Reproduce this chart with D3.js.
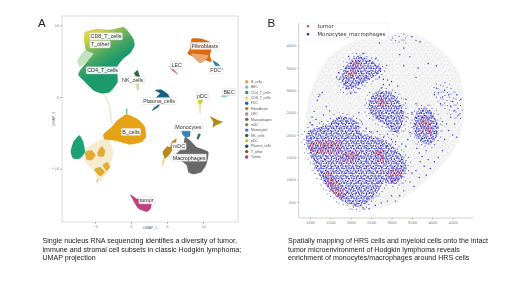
<!DOCTYPE html>
<html>
<head>
<meta charset="utf-8">
<script src="https://cdnjs.cloudflare.com/ajax/libs/d3/7.8.5/d3.min.js"></script>
<style>
  html, body { margin: 0; padding: 0; background: #fff; }
  text { font-family: "Liberation Sans", sans-serif; }
  .cap { font-size: 7.1px; fill: #222; }
  .tick text { fill: #777; font-size: 3.6px; font-family: "DejaVu Sans", sans-serif; }
</style>
<title>snRNA UMAP and spatial map</title>
</head>
<body>
<div id="chart"></div>
<script>
// ---- panel A: UMAP cluster outlines (UMAP units)
var tAll = [[-6.39,9.07],[-4.77,9.53],[-2.92,9.40],[-1.06,9.77],[-0.51,9.30],[0.32,8.14],[0.51,7.21],[-0.14,6.05],[-1.06,5.35],[-1.90,4.19],[-1.85,2.09],[-2.92,0.70],[-4.07,0.47],[-5.23,0.93],[-6.39,2.09],[-7.31,3.02],[-7.08,3.72],[-5.93,5.12],[-5.23,6.05],[-6.25,6.51],[-6.53,7.91]];
var tFuzz = [[-7.45,5.12],[-6.39,6.51],[-5.23,6.14],[-5.93,5.12],[-7.08,4.19]];
var bWeb = [[-6.62,-7.44],[-3.84,-5.81],[-2.92,-6.28],[-2.45,-7.91],[-3.15,-10.23],[-4.31,-11.86],[-5.23,-10.23],[-6.39,-9.07]];
var bMain = [[-3.84,-5.21],[-2.69,-4.19],[-1.90,-3.26],[-0.60,-2.42],[1.02,-3.16],[1.94,-4.19],[2.08,-5.58],[1.48,-6.28],[-0.14,-6.65],[-1.99,-6.14],[-3.61,-5.95]];
var bNode1 = [[-6.39,-7.67],[-5.46,-7.44],[-4.91,-8.14],[-5.46,-8.84],[-6.16,-8.74]];
var bNode2 = [[-4.63,-7.67],[-4.07,-6.88],[-3.61,-7.44],[-3.75,-8.28],[-4.54,-8.28]];
var bNode3 = [[-3.94,-9.53],[-3.29,-9.07],[-2.92,-9.77],[-3.38,-10.33]];
var bNode4 = [[-5.14,-10.14],[-4.31,-9.77],[-3.61,-10.47],[-4.31,-11.07]];
var cd4Low = [[-8.38,-7.67],[-8.01,-6.28],[-7.18,-5.35],[-6.62,-6.28],[-6.39,-7.67],[-7.08,-8.60],[-8.01,-8.60]];
var fibro = [[8.43,8.14],[9.81,8.14],[10.97,7.67],[11.20,6.74],[10.97,5.81],[11.20,4.88],[10.28,5.12],[9.58,4.74],[8.66,5.58],[7.82,6.05],[8.19,6.74]];
var fibroPale = [[8.43,6.05],[10.74,5.81],[10.28,5.12],[9.58,4.74],[8.66,5.58]];
var fdc = [[11.34,5.12],[12.13,4.65],[12.82,3.81],[11.90,4.09],[11.53,4.65]];
var lec = [[5.32,4.28],[5.79,4.09],[6.67,3.02],[5.65,3.72]];
var nkPale = [[0.30,2.40],[0.95,3.80],[1.30,2.55],[1.16,1.86],[1.06,0.84],[0.79,1.16],[0.69,2.09]];
var nkDark = [[0.42,3.26],[0.88,3.72],[1.25,2.79],[0.76,2.86]];
var plasma = [[3.33,0.93],[4.26,1.02],[5.05,0.47],[5.42,-0.23],[4.03,-0.23],[3.47,-0.09],[4.03,0.47]];
var plasmaTail = [[4.12,-0.84],[3.19,-1.49],[2.87,-2.00],[3.80,-1.40]];
var pdcTail = [[9.35,-0.93],[9.80,-0.93],[9.60,-2.56]];
var pdc = [[9.30,-0.23],[9.77,-0.09],[10.00,-0.56],[9.68,-1.02],[9.35,-0.84]];
var bec = [[12.45,0.09],[13.29,0.47],[13.61,0.23],[13.06,-0.09]];
var wedge = [[10.97,-2.70],[12.13,-3.26],[12.73,-3.49],[11.81,-3.95],[11.34,-4.28],[11.43,-3.49]];
var macro = [[7.50,-5.58],[8.19,-6.05],[9.12,-6.98],[10.74,-7.67],[10.51,-9.30],[9.81,-10.47],[8.66,-10.79],[7.96,-10.47],[7.73,-9.53],[6.81,-8.84],[5.88,-8.37],[6.81,-7.44],[7.27,-6.74]];
var mono = [[7.04,-4.65],[8.19,-4.56],[8.19,-5.49],[7.59,-5.67],[7.13,-5.21]];
var monoSmall = [[9.35,-5.12],[9.68,-5.21],[9.35,-5.95],[9.12,-5.81]];
var mdc = [[4.40,-7.67],[5.05,-6.88],[5.42,-6.98],[5.65,-6.28],[6.34,-5.81],[6.11,-6.74],[5.42,-7.91],[4.72,-8.60]];
var mdcTail = [[4.40,-8.60],[4.86,-8.60],[4.26,-9.86]];
var tumorA = [[-0.14,-13.58],[0.79,-14.19],[1.94,-14.19],[2.87,-14.65],[2.73,-15.58],[2.18,-16.05],[1.02,-15.58],[0.42,-14.65]];

var clusterShapes = [tFuzz, tAll, bWeb, bMain, bNode1, bNode2, bNode3, bNode4, cd4Low, fibro, fibroPale, fdc, lec, nkPale, nkDark, plasma, plasmaTail, pdcTail, pdc, bec, wedge, macro, mono, monoSmall, mdc, mdcTail, tumorA];
var clusterColors = ["#c4e2c2", "url(#tGrad)", "#f6ecd2", "#e5a212", "#e2ab35", "#e2ab35", "#e2ab35", "#e2ab35", "#1fa276", "#dd6a10", "#e9a877", "#2b7fa8", "#c97ba8", "#cfd9a0", "#2e6b40", "#125e80", "#2a6f8c", "#e9e7c0", "#d6cb2a", "#8fc5e6", "#b8871a", "#676767", "#3b85b5", "#3a6b72", "#b58a1c", "#ecd9a8", "#c0407f"];

// thin strands between the B cell clumps
var strands = [
  [[-3.61,-5.81],[-4.54,-7.20]],
  [[-3.15,-6.28],[-2.69,-7.44],[-3.38,-9.30]],
  [[-5.00,-8.14],[-4.54,-9.80]],
  [[-4.31,-11.00],[-4.77,-11.90]],
  [[-2.69,-3.72],[-2.92,-1.40],[-3.61,0.23]],
  [[-0.60,-2.42],[-0.60,-1.60]]
];
var strandColors = ["#e8bb55", "#e8bb55", "#e8bb55", "#e8bb55", "#e6ebd8", "#7cc2a8"];

var labelNames = ["CD8_T_cells", "T_other", "CD4_T_cells", "NK_cells", "Plasma_cells", "LEC", "Fibroblasts", "FDC", "pDC", "BEC", "Monocytes", "mDC", "Macrophages", "B_cells", "tumor"];
var labelX = [-3.47, -4.31, -3.94, 0.23, 3.89, 6.34, 10.28, 11.76, 9.91, 13.61, 7.96, 6.67, 8.06, 0, 2.18];
var labelY = [8.47, 7.35, 3.72, 2.33, -0.56, 4.42, 7.12, 3.81, 0.09, 0.70, -4.23, -6.88, -8.47, -4.88, -14.42];

var legendNames = ["B_cells", "BEC", "CD4_T_cells", "CD8_T_cells", "FDC", "Fibroblasts", "LEC", "Macrophages", "mDC", "Monocytes", "NK_cells", "pDC", "Plasma_cells", "T_other", "Tumor"];
var legendColors = ["#e5a73a", "#7cb0e0", "#1c9a6c", "#efd85a", "#1f66a8", "#d86a1e", "#b37db0", "#6b6358", "#a8802a", "#3a78c8", "#2f6b35", "#c9c23a", "#13506a", "#8a5238", "#b83a6a"];

var umapXTicks = [-5, 0, 5, 10];
var umapYTicks = [-10, 0, 10];

// ---- panel B: spatial map (tissue coordinates)
var tissue = [[3371,4277],[3862,4128],[4352,3792],[4679,3306],[4777,2635],[4679,1963],[4352,1440],[3862,993],[3208,545],[2472,321],[1981,396],[1491,731],[1000,1590],[918,2038],[918,2560],[1082,3157],[1409,3680],[1899,4024],[2390,4204],[2840,4240]];
var denseAreas = [
  [[918,2038],[1409,2224],[1736,2411],[2186,2262],[2226,2075],[2880,1851],[3371,1329],[3126,918],[2799,918],[2635,694],[2226,396],[1899,470],[1531,731],[1164,1217]],
  [[1777,3344],[2145,3754],[2553,3642],[2758,3456],[2431,3232],[2063,3045],[1899,3008]],
  [[2431,2635],[2594,2933],[2921,2971],[3248,2672],[3289,2336],[3126,2038],[2799,2262],[2553,2411]],
  [[3535,2224],[3698,2597],[3943,2560],[4148,2187],[4025,1851],[3780,1814],[3575,2000]]
];
var sparseAreas = [
  [[4025,3120],[4352,3194],[4761,2560],[4679,2336],[4270,2560]],
  [[2962,4165],[3371,4277],[3371,4053],[3044,4053]]
];
var tumorAreas = [
  [[1000,1650],[1750,1650],[1750,1820],[1000,1820]],
  [[1300,1100],[1700,600],[1850,600],[1450,1200]],
  [[1750,1430],[2200,1470],[2200,1600],[1750,1560]],
  [[2600,1450],[2850,1400],[2800,1650],[2600,1650]],
  [[2950,1000],[3200,1000],[3200,1250],[2950,1200]],
  [[1950,3250],[2250,3600],[2100,3650],[1950,3400]],
  [[2680,2650],[2880,2650],[2850,2850],[2700,2850]],
  [[3700,2150],[3950,2050],[3900,2400],[3750,2400]]
];
var blueX = [1240,1210,1300,1180,1330,1100,1050,1000,1150,1290,1400,1480,1250,1050,1700,1730,1650,2000,2100,2180,2300,2700,2800,2900,3000,2800,2950,2750,2880,2620,2300,1950,2700,3500,3600,3700,3300,3200,3450,3650,3900,4100,3300,3600,2200,2260,2380,2500,2650,2800,2900,3000,3100,3250,3350,3400,3450,3380,3500,3600,3350,3150,4700,4600,4400,4500,4600,4300,4350,4250,4450,4550,3620,3680,3750,3850,3700,3800,3900,3950,4050,3600,3680,3500,3450,3550,3300,3200,3000,2900,2750,3100,3850,4150,4250,2450,2300,2600,4100,4150,4250,4300,4400,4500,4450,4550,4650,4200,4050];
var blueY = [2900,2860,2950,2780,2450,2530,2400,2280,2350,2300,2640,2540,2120,2230,3400,3250,3300,2930,2960,3040,3180,3300,3250,3230,3200,3130,3120,3050,3560,3720,3820,3760,4060,4200,4120,4090,3950,3800,3750,3500,3600,3550,3550,3290,2500,2300,2150,2070,2080,1950,2020,1900,1850,1800,1750,1900,2050,2400,2500,2700,2800,3100,2800,2900,2100,2000,1950,1900,2250,2300,2400,2250,1700,1600,1520,1650,1400,1300,1450,1250,1400,1200,1050,1150,950,850,750,640,640,520,480,520,1100,1500,1650,350,370,420,3050,2950,2850,3000,2900,2750,2650,2550,2450,2700,2900];
var redX = [1050,1150,1250,1350,1450,1550,1650,1720,1330,1400,1450,1520,1600,1700,1780,1420,1560,1750,1900,2050,2150,2650,2780,2700,3000,3100,3200,3050,2000,2100,2150,2250,2050,2180,2750,2800,2850,2700,3750,3850,3900,3800,3950];
var redY = [1720,1760,1700,1740,1720,1780,1720,1700,1140,1050,960,880,800,680,600,1180,1000,1500,1520,1470,1540,1560,1480,1620,1080,1000,1150,1200,3350,3500,3600,3420,3280,3300,2800,2720,2650,2450,2300,2250,2150,2400,2050];
var spatialXTicks = [1000, 1500, 2000, 2500, 3000, 3500, 4000, 4500];
var spatialYTicks = [500, 1000, 1500, 2000, 2500, 3000, 3500, 4000];

var captionA = ["Single nucleus RNA sequencing identifies a diversity of tumor,", "immune and stromal cell subsets in classic Hodgkin lymphoma;", "UMAP projection"];
var captionB = ["Spatially mapping of HRS cells and myeloid cells onto the intact", "tumor microenvironment of Hodgkin lymphoma reveals", "enrichment of monocytes/macrophages around HRS cells"];

// page
var svg = d3.select("#chart").append("svg")
  .attr("width", 520).attr("height", 292)
  .style("display", "block");

var defs = svg.append("defs");
defs.append("filter").attr("id", "soft").append("feGaussianBlur").attr("stdDeviation", 0.4);
defs.append("filter").attr("id", "softText").append("feGaussianBlur").attr("stdDeviation", 0.18);

// T cell block fades from yellow through to green
var tGrad = defs.append("linearGradient").attr("id", "tGrad").attr("gradientUnits", "userSpaceOnUse")
  .attr("x1", 85).attr("y1", 28).attr("x2", 112).attr("y2", 72);
[["0", "#e6da50"], ["0.22", "#cfd04e"], ["0.42", "#7fb85a"], ["0.62", "#45a662"], ["0.85", "#1b9a6c"]].forEach(function (s) {
  tGrad.append("stop").attr("offset", s[0]).attr("stop-color", s[1]);
});

// stipple tiles for the very dense point clouds, tile sizes differ so the overlay doesn't show a grid
function stipple(id, size, dots, color, r) {
  var p = defs.append("pattern").attr("id", id).attr("patternUnits", "userSpaceOnUse")
    .attr("width", size).attr("height", size);
  dots.forEach(function (d) {
    p.append("circle").attr("cx", d[0]).attr("cy", d[1]).attr("r", r).attr("fill", color);
  });
}
stipple("grey1", 7, [[0.5,1],[4.5,1.5],[2.5,3.8],[6,5],[1,6]], "#e2e2e2", 0.6);
stipple("grey2", 11, [[2,2],[7,1],[9.5,4],[4.5,6],[1,9],[7.5,9.5]], "#dcdcdc", 0.6);
stipple("blue1", 5, [[0.7,0.8],[3,1.2],[1.5,3],[4,3.6]], "#2020d0", 0.65);
stipple("blue2", 7, [[1,0.5],[4,2],[6,4],[2.5,5.5]], "#3030e0", 0.65);
stipple("blue3", 11, [[1.5,3],[5,0.8],[8,2.5],[3.5,7],[6.5,5.5],[9.5,8],[1,10]], "#1a1ac0", 0.6);
stipple("blueSparse", 13, [[1,1],[5.5,1.5],[9,3],[12,1],[3,4.5],[7.5,6],[11.5,7],[1,8],[5,9.5],[9,10.5],[2.5,12]], "#3535cf", 0.55);
stipple("red1", 5, [[0.7,0.8],[3,0.5],[1.8,2.5],[4,2.5],[0.6,4.2],[3,4.3]], "#c04060", 0.6);

// ---- panel A
var xA = d3.scaleLinear().domain([-9.58, 14.86]).range([62, 238]);
var yA = d3.scaleLinear().domain([11.3, -17.45]).range([16, 222]);
var shape = d3.line().x(function (d) { return xA(d[0]); }).y(function (d) { return yA(d[1]); }).curve(d3.curveCardinalClosed.tension(0.5));

svg.append("rect").attr("x", 62).attr("y", 16).attr("width", 176).attr("height", 206)
  .attr("fill", "#fff").attr("stroke", "#dcdcdc").attr("stroke-width", 1);

var axA = svg.append("g");
axA.append("g").attr("transform", "translate(0,222)")
  .call(d3.axisBottom(xA).tickValues(umapXTicks).tickSize(1.5).tickPadding(1.5))
  .call(function (g) { g.select(".domain").remove(); g.selectAll("line").attr("stroke", "#999"); });
axA.append("g").attr("transform", "translate(62,0)")
  .call(d3.axisLeft(yA).tickValues(umapYTicks).tickSize(1.5).tickPadding(1.5))
  .call(function (g) { g.select(".domain").remove(); g.selectAll("line").attr("stroke", "#999"); });

svg.append("text").attr("x", 150).attr("y", 229).attr("text-anchor", "middle")
  .style("font-size", "3.6px").style("fill", "#666").text("UMAP_1");
svg.append("text").attr("transform", "translate(55,119) rotate(-90)").attr("text-anchor", "middle")
  .style("font-size", "3.6px").style("fill", "#666").text("UMAP_2");

var marksA = svg.append("g").attr("filter", "url(#soft)");
marksA.selectAll("path.strand").data(strands).enter().append("path")
  .attr("class", "strand")
  .attr("d", d3.line().x(function (d) { return xA(d[0]); }).y(function (d) { return yA(d[1]); }))
  .attr("fill", "none")
  .attr("stroke", function (d, i) { return strandColors[i]; })
  .attr("stroke-width", 1.6);
marksA.selectAll("path.cluster").data(clusterShapes).enter().append("path")
  .attr("class", "cluster")
  .attr("d", shape)
  .attr("fill", function (d, i) { return clusterColors[i]; });

// cluster name boxes
var labelFont = 5.4;
var labelsA = svg.append("g").attr("filter", "url(#softText)");
labelNames.forEach(function (name, i) {
  var g = labelsA.append("g").attr("transform", "translate(" + xA(labelX[i]) + "," + yA(labelY[i]) + ")");
  var t = g.append("text").attr("text-anchor", "middle").attr("y", labelFont * 0.36)
    .style("font-size", labelFont + "px").style("fill", "#333").text(name);
  var w = t.node().getComputedTextLength() + 2;
  g.insert("rect", "text").attr("x", -w / 2).attr("y", -3.6).attr("width", w).attr("height", 7.2)
    .attr("rx", 0.8).attr("fill", "#fff").attr("fill-opacity", 0.9).attr("stroke", "#ccc").attr("stroke-width", 0.4);
});

// legend of panel A
var legY = d3.scalePoint().domain(legendNames).range([81.7, 157]);
var legA = svg.selectAll("g.legA").data(legendNames).enter().append("g").attr("class", "legA")
  .attr("filter", "url(#softText)")
  .attr("transform", function (d) { return "translate(246.7," + legY(d) + ")"; });
legA.append("circle").attr("r", 1.7).attr("fill", function (d, i) { return legendColors[i]; });
legA.append("text").attr("x", 4.3).attr("y", 1.2).style("font-size", "3.4px").style("fill", "#555").text(function (d) { return d; });

// ---- panel B
var xB = d3.scaleLinear().domain([1000, 4500]).range([310, 452.7]);
var yB = d3.scaleLinear().domain([500, 4000]).range([202, 45.7]);
var blob = d3.line().x(function (d) { return xB(d[0]); }).y(function (d) { return yB(d[1]); }).curve(d3.curveCatmullRomClosed.alpha(0.5));

var marksB = svg.append("g").attr("filter", "url(#soft)");
marksB.append("path").datum(tissue).attr("d", blob).attr("fill", "#f6f6f6");
["grey1", "grey2"].forEach(function (p) {
  marksB.append("path").datum(tissue).attr("d", blob).attr("fill", "url(#" + p + ")");
});
marksB.selectAll("path.sparse").data(sparseAreas).enter().append("path").attr("class", "sparse")
  .attr("d", blob).attr("fill", "url(#blueSparse)");
// fuzzy rim round the dense areas
marksB.selectAll("path.rim").data(denseAreas).enter().append("path").attr("class", "rim")
  .attr("d", blob).attr("fill", "none").attr("stroke", "url(#blueSparse)").attr("stroke-width", 10);
["blue1", "blue2", "blue3"].forEach(function (p) {
  marksB.selectAll("path." + p).data(denseAreas).enter().append("path").attr("class", p)
    .attr("d", blob).attr("fill", "url(#" + p + ")");
});
marksB.selectAll("path.tum").data(tumorAreas).enter().append("path").attr("class", "tum")
  .attr("d", blob).attr("fill", "url(#red1)");
marksB.selectAll("circle.blue").data(blueX).enter().append("circle").attr("class", "blue")
  .attr("cx", function (d) { return xB(d); })
  .attr("cy", function (d, i) { return yB(blueY[i]); })
  .attr("r", 0.7).attr("fill", "#2a2ad0");
marksB.selectAll("circle.red").data(redX).enter().append("circle").attr("class", "red")
  .attr("cx", function (d) { return xB(d); })
  .attr("cy", function (d, i) { return yB(redY[i]); })
  .attr("r", 0.7).attr("fill", "#c03050");

// left and bottom spines only
var axB = svg.append("g");
axB.append("g").attr("transform", "translate(0,218)")
  .call(d3.axisBottom(xB).tickValues(spatialXTicks).tickSize(1.5).tickPadding(1.5).tickFormat(d3.format("d")))
  .call(function (g) { g.selectAll("line").attr("stroke", "#aaa"); });
axB.append("g").attr("transform", "translate(298.7,0)")
  .call(d3.axisLeft(yB).tickValues(spatialYTicks).tickSize(1.5).tickPadding(1.5).tickFormat(d3.format("d")))
  .call(function (g) { g.selectAll("line").attr("stroke", "#aaa"); });
axB.selectAll(".domain").remove();
axB.append("line").attr("x1", 298.7).attr("x2", 298.7).attr("y1", 23).attr("y2", 218).attr("stroke", "#c4c4c4").attr("stroke-width", 0.8);
axB.append("line").attr("x1", 298.7).attr("x2", 473).attr("y1", 218).attr("y2", 218).attr("stroke", "#c4c4c4").attr("stroke-width", 0.8);

// legend of panel B
svg.append("rect").attr("x", 299.5).attr("y", 23).attr("width", 88.5).attr("height", 17)
  .attr("fill", "#fff").attr("stroke", "#eee").attr("stroke-width", 0.5).attr("rx", 1);
var legBNames = ["tumor", "Monocytes_macrophages"];
var legBColors = ["#c0504d", "#2222b8"];
var legB = svg.append("g").attr("filter", "url(#softText)");
legBNames.forEach(function (name, i) {
  var y = 26.3 + i * 8;
  legB.append("circle").attr("cx", 308).attr("cy", y).attr("r", 1.2).attr("fill", legBColors[i]);
  legB.append("text").attr("x", 317.5).attr("y", y + 2).style("font-size", "5.35px")
    .style("font-family", "DejaVu Sans").style("fill", "#333").text(name);
});

// panel letters and captions
var words = svg.append("g").attr("filter", "url(#softText)");
words.append("text").attr("x", 38).attr("y", 27).style("font-size", "11.5px").style("fill", "#222").text("A");
words.append("text").attr("x", 267.5).attr("y", 27).style("font-size", "11.5px").style("fill", "#222").text("B");

words.selectAll("text.capA").data(captionA).enter().append("text").attr("class", "cap capA")
  .attr("x", 42.5).attr("y", function (d, i) { return 243 + i * 8.5; }).text(function (d) { return d; });
words.selectAll("text.capB").data(captionB).enter().append("text").attr("class", "cap capB")
  .attr("x", 288).attr("y", function (d, i) { return 243 + i * 8.5; }).text(function (d) { return d; });
</script>
</body>
</html>
